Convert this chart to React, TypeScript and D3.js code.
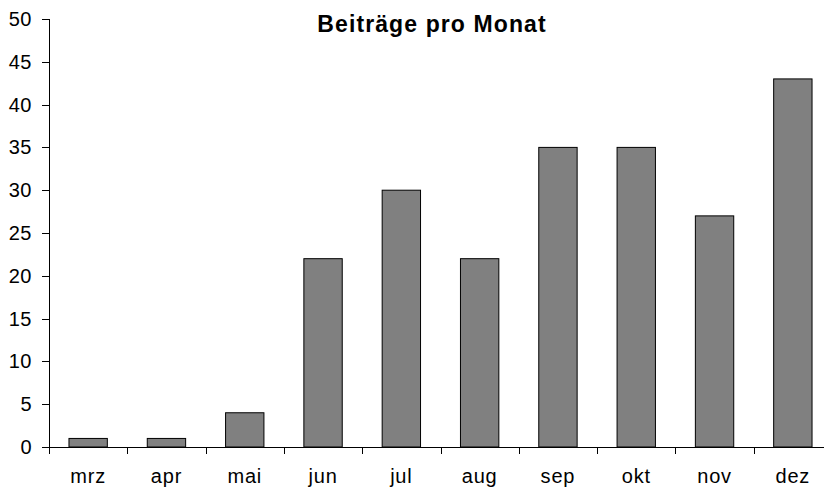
import * as d3 from 'd3'

const months = ['mrz', 'apr', 'mai', 'jun', 'jul', 'aug', 'sep', 'okt', 'nov', 'dez']
const posts = [1, 1, 4, 22, 30, 22, 35, 35, 27, 43]
const yTicks = [0, 5, 10, 15, 20, 25, 30, 35, 40, 45, 50]

const width = 824
const height = 488
const left = 49
const right = 832
const top = 19
const bottom = 447

export default function App() {
  const x = d3.scaleBand<string>().domain(months).range([left, right]).paddingInner(0).paddingOuter(0)
  const y = d3.scaleLinear().domain([0, 50]).range([bottom, top])
  const barW = x.bandwidth() * 0.49

  return (
    <svg
      width={width}
      height={height}
      style={{ position: 'absolute', left: 0, top: 0, background: '#fff' }}
      fontFamily="Arial, 'Liberation Sans', sans-serif"
    >
      <text x={432} y={32} textAnchor="middle" fontSize={23} fontWeight="bold" letterSpacing={1.1}>
        Beiträge pro Monat
      </text>

      {/* bars */}
      {months.map((m, i) => (
        <rect
          key={m}
          x={x(m)! + (x.bandwidth() - barW) / 2}
          y={y(posts[i])}
          width={barW}
          height={bottom - y(posts[i])}
          fill="#808080"
          stroke="#000"
          strokeWidth={1}
        />
      ))}

      {/* y axis */}
      <line x1={left + 0.5} x2={left + 0.5} y1={top} y2={bottom} stroke="#000" />
      {yTicks.map(t => (
        <g key={t}>
          <line x1={left - 7} x2={left} y1={Math.round(y(t)) + 0.5} y2={Math.round(y(t)) + 0.5} stroke="#000" />
          <text x={32} y={y(t) + 7} textAnchor="end" fontSize={20} letterSpacing={0.5}>
            {t}
          </text>
        </g>
      ))}

      {/* x axis */}
      <line x1={left} x2={right} y1={bottom + 0.5} y2={bottom + 0.5} stroke="#000" />
      {months.map(m => (
        <g key={m}>
          <line
            x1={Math.round(x(m)!) + 0.5}
            x2={Math.round(x(m)!) + 0.5}
            y1={bottom}
            y2={bottom + 7}
            stroke="#000"
          />
          <text x={x(m)! + x.bandwidth() / 2} y={483} textAnchor="middle" fontSize={20} letterSpacing={0.8}>
            {m}
          </text>
        </g>
      ))}
    </svg>
  )
}
